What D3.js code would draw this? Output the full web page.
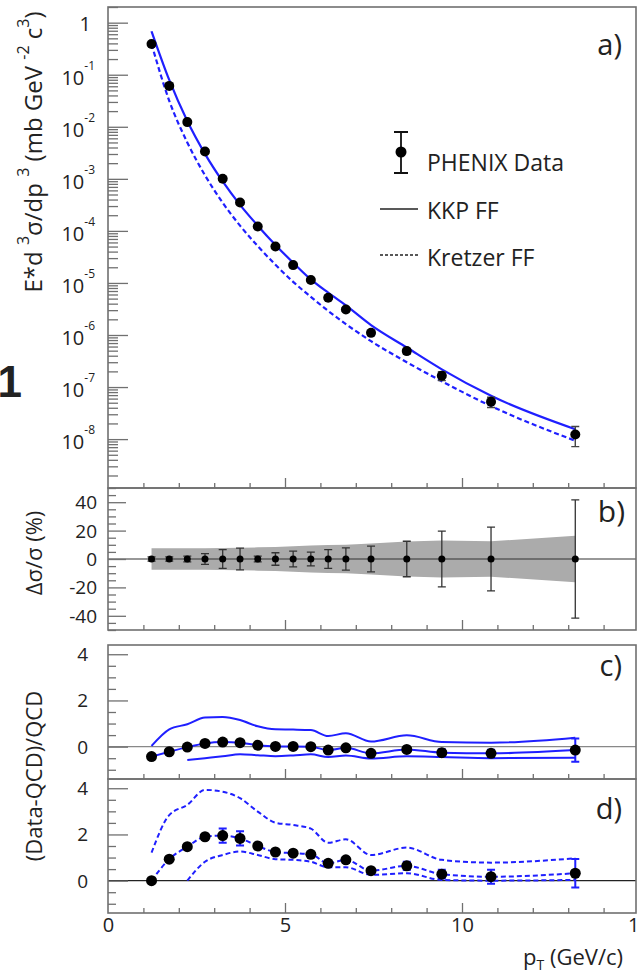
<!DOCTYPE html>
<html>
<head>
<meta charset="utf-8">
<script src="https://cdn.jsdelivr.net/npm/d3@7"></script>
<style>
  body { margin: 0; background: #fff; }
  svg text { font-family: "Open Sans", "DejaVu Sans", sans-serif; fill: #222; }
</style>
</head>
<body>
<div id="chart"></div>
<script>
/* global d3 */

//---------------------Data

const ptValues = [1.23, 1.73, 2.24, 2.74, 3.24, 3.73, 4.23, 4.73, 5.23, 5.73, 6.22, 6.72, 7.43, 8.44, 9.43, 10.82, 13.2]

// a) invariant cross section, mb GeV^-2 c^3
const crossSection = [0.39, 0.061, 0.0123, 3.35e-3, 1.0e-3, 3.5e-4, 1.21e-4, 5.0e-5, 2.2e-5, 1.14e-5, 5.2e-6, 3.1e-6, 1.1e-6, 4.9e-7, 1.65e-7, 5.2e-8, 1.23e-8]
const kkpCurve = [0.684, 0.0794, 0.0129, 3.02e-3, 8.9e-4, 3.16e-4, 1.26e-4, 5.37e-5, 2.45e-5, 1.17e-5, 6.5e-6, 3.7e-6, 1.55e-6, 5.75e-7, 2.19e-7, 6.8e-8, 1.55e-8]
const kretzerCurve = [0.39, 0.0316, 5.0e-3, 1.17e-3, 3.47e-4, 1.26e-4, 5.1e-5, 2.24e-5, 1.05e-5, 5.4e-6, 2.9e-6, 1.62e-6, 7.6e-7, 3.0e-7, 1.29e-7, 4.3e-8, 9.3e-9]

// b) relative errors in %
const statErrPct = [1.5, 1.5, 2, 3.8, 6.6, 7.6, 2, 4.4, 5.5, 4.8, 6.6, 7.8, 9.1, 12.5, 19.6, 22.4, 41.7]
const sysErrPct = [7.5, 7.5, 7.5, 7.6, 7.8, 8, 8.2, 8.5, 9, 9.5, 9.8, 10, 11, 12.4, 13, 12.5, 16.3]

// c) (Data-QCD)/QCD for KKP, with scale variations
const kkpRatio = [-0.43, -0.22, -0.02, 0.14, 0.2, 0.17, 0.06, 0.01, 0.01, 0.0, -0.15, -0.05, -0.29, -0.12, -0.26, -0.29, -0.15]
const kkpRatioErr = [0.02, 0.03, 0.04, 0.06, 0.08, 0.09, 0.03, 0.05, 0.06, 0.05, 0.06, 0.07, 0.07, 0.11, 0.15, 0.16, 0.5]
const kkpUpper = [0.03, 0.75, 0.97, 1.26, 1.28, 1.15, 0.88, 0.75, 0.74, 0.72, 0.46, 0.58, 0.22, 0.49, 0.2, 0.17, 0.39]
const kkpLower = [null, null, -0.58, -0.5, -0.42, -0.33, -0.37, -0.41, -0.38, -0.33, -0.45, -0.38, -0.51, -0.42, -0.45, -0.5, -0.48]

// d) (Data-QCD)/QCD for Kretzer, with scale variations
const kretzerRatio = [0, 0.93, 1.47, 1.9, 1.95, 1.83, 1.5, 1.24, 1.19, 1.14, 0.75, 0.9, 0.43, 0.64, 0.28, 0.17, 0.32]
const kretzerRatioErr = [0.03, 0.05, 0.08, 0.12, 0.31, 0.31, 0.08, 0.08, 0.1, 0.1, 0.12, 0.12, 0.12, 0.18, 0.19, 0.3, 0.62]
const kretzerUpper = [1.21, 2.84, 3.28, 3.93, 3.85, 3.57, 2.99, 2.51, 2.41, 2.25, 1.64, 1.79, 1.11, 1.43, 0.9, 0.78, 0.97]
const kretzerLower = [null, null, 0, 0.82, 1.11, 1.26, 1.11, 0.93, 0.9, 0.82, 0.58, 0.58, 0.25, 0.32, 0.03, 0.0, 0.03]

// tick labels
const xTickLabels = [0, 5, 10, 15]
const decadeExponents = [0, -1, -2, -3, -4, -5, -6, -7, -8]
const bTickLabels = [40, 20, 0, -20, -40]
const ratioTickLabels = [4, 2, 0]

const legendItems = ["PHENIX Data", "KKP FF", "Kretzer FF"]

//---------------------Layout

const dimensions = { width: 639, height: 974, left: 108, right: 636 }
const panels = {
  a: { top: 7, bottom: 488 },
  b: { top: 488, bottom: 630 },
  c: { top: 645, bottom: 779 },
  d: { top: 779, bottom: 913 }
}

const blue = "#1f1fff"
const frameColor = "#707070"

const svg = d3.select("#chart")
  .append("svg")
  .attr("width", dimensions.width)
  .attr("height", dimensions.height)

//---------------------Scales

const xScale = d3.scaleLinear().domain([0, 15]).range([dimensions.left, 639])
const yA = d3.scaleLog().domain([1.15e-9, 2]).range([panels.a.bottom, panels.a.top])
const yB = d3.scaleLinear().domain([-50, 50]).range([panels.b.bottom, panels.b.top])
const yC = d3.scaleLinear().domain([-1.4, 4.4]).range([panels.c.bottom, panels.c.top])
const yD = d3.scaleLinear().domain([-1.4, 4.4]).range([panels.d.bottom, panels.d.top])

const pts = ptValues.map((x, i) => ({ x, i }))

//---------------------Helpers

function styleAxis (g) {
  g.select(".domain").remove()
  g.selectAll(".tick line").attr("stroke", frameColor).attr("stroke-width", 1.3)
  g.selectAll(".tick text").remove()
}

function xTicks (panel) {
  const minor = d3.range(0, 15, 1).filter(v => v % 5 !== 0)
  svg.append("g")
    .attr("transform", `translate(0,${panel.bottom})`)
    .call(d3.axisTop(xScale).tickValues(minor).tickSize(5))
    .call(styleAxis)
  svg.append("g")
    .attr("transform", `translate(0,${panel.bottom})`)
    .call(d3.axisTop(xScale).tickValues([5, 10]).tickSize(10))
    .call(styleAxis)
}

function yTicks (scale, majors, minors, majorLen, minorLen) {
  svg.append("g")
    .attr("transform", `translate(${dimensions.left},0)`)
    .call(d3.axisRight(scale).tickValues(minors).tickSize(minorLen))
    .call(styleAxis)
  svg.append("g")
    .attr("transform", `translate(${dimensions.left},0)`)
    .call(d3.axisRight(scale).tickValues(majors).tickSize(majorLen))
    .call(styleAxis)
}

function frame (panel) {
  svg.append("rect")
    .attr("x", dimensions.left)
    .attr("y", panel.top)
    .attr("width", dimensions.right - dimensions.left)
    .attr("height", panel.bottom - panel.top)
    .attr("fill", "none")
    .attr("stroke", frameColor)
    .attr("stroke-width", 1.6)
}

// text with superscripts: parts = [[string, isSup], ...]
function richText (sel, parts, supSize, supShift) {
  let shift = 0
  parts.forEach(([t, sup]) => {
    const target = sup ? -supShift : 0
    sel.append("tspan")
      .attr("dy", target - shift)
      .style("font-size", sup ? supSize + "px" : null)
      .text(t)
    shift = target
  })
}

function zeroLine (scale, color) {
  svg.append("line")
    .attr("x1", dimensions.left).attr("x2", dimensions.right)
    .attr("y1", scale(0)).attr("y2", scale(0))
    .attr("stroke", color).attr("stroke-width", 1.2)
}

function errorBars (g, scale, lo, hi, color, width, cap) {
  g.selectAll(null)
    .data(pts)
    .join("path")
    .attr("d", d => {
      const x = xScale(d.x)
      const y1 = scale(lo(d))
      const y2 = scale(hi(d))
      return `M${x},${y1}V${y2}M${x - cap},${y1}H${x + cap}M${x - cap},${y2}H${x + cap}`
    })
    .attr("fill", "none")
    .attr("stroke", color)
    .attr("stroke-width", width)
}

//---------------------Panel a) spectrum

const decadeTicks = []
for (let k = -9; k <= 0; k++) {
  for (let m = 1; m <= 9; m++) {
    const v = m * Math.pow(10, k)
    if (v >= 1.15e-9 && v <= 2) decadeTicks.push({ v, major: m === 1 })
  }
}
yTicks(yA, decadeTicks.filter(d => d.major).map(d => d.v), decadeTicks.filter(d => !d.major).map(d => d.v), 20, 10)
xTicks(panels.a)

decadeExponents.forEach(e => {
  const y = yA(Math.pow(10, e))
  const t = svg.append("text")
    .attr("x", 95)
    .attr("y", e === 0 ? y + 8 : y + 10)
    .attr("text-anchor", "end")
    .style("font-size", "20px")
  if (e === 0) {
    t.attr("x", 91).text("1")
  } else {
    richText(t, [["10", false], [String(e), true]], 12, 15)
  }
})

const lineA = d3.line()
  .x(d => xScale(d.x))
  .y(d => yA(d.v))
  .curve(d3.curveMonotoneX)

svg.append("path")
  .attr("d", lineA(pts.map(d => ({ x: d.x, v: kkpCurve[d.i] }))))
  .attr("fill", "none")
  .attr("stroke", blue)
  .attr("stroke-width", 2.2)

svg.append("path")
  .attr("d", lineA(pts.map(d => ({ x: d.x, v: kretzerCurve[d.i] }))))
  .attr("fill", "none")
  .attr("stroke", blue)
  .attr("stroke-width", 2.2)
  .attr("stroke-dasharray", "5,3")

const gA = svg.append("g")
errorBars(gA, yA,
  d => crossSection[d.i] * (1 - statErrPct[d.i] / 100),
  d => crossSection[d.i] * (1 + statErrPct[d.i] / 100),
  "#444", 1.4, 4)

gA.selectAll("circle")
  .data(pts)
  .join("circle")
  .attr("cx", d => xScale(d.x))
  .attr("cy", d => yA(crossSection[d.i]))
  .attr("r", 5)
  .attr("fill", "black")

frame(panels.a)

// legend
const legend = svg.append("g")
legend.append("path")
  .attr("d", "M401,132V173M394,132H408M394,173H408")
  .attr("stroke", "#111").attr("stroke-width", 1.8).attr("fill", "none")
legend.append("circle").attr("cx", 401).attr("cy", 152).attr("r", 5.5).attr("fill", "black")
legend.append("line").attr("x1", 380).attr("x2", 418).attr("y1", 209).attr("y2", 209)
  .attr("stroke", "#222").attr("stroke-width", 1.5)
legend.append("line").attr("x1", 380).attr("x2", 418).attr("y1", 255).attr("y2", 255)
  .attr("stroke", "#222").attr("stroke-width", 1.5).attr("stroke-dasharray", "3,2")
legend.selectAll("text")
  .data(legendItems)
  .join("text")
  .attr("x", 427)
  .attr("y", (d, i) => [171, 219, 266][i])
  .style("font-size", "23px")
  .text(d => d)

svg.append("text")
  .attr("x", 622).attr("y", 55)
  .attr("text-anchor", "end")
  .style("font-size", "29px")
  .text("a)")

//---------------------Panel b) relative errors

svg.append("path")
  .attr("d", d3.area()
    .x(d => xScale(d.x))
    .y0(d => yB(-sysErrPct[d.i]))
    .y1(d => yB(sysErrPct[d.i]))(pts))
  .attr("fill", "#ababab")

zeroLine(yB, "#333")

yTicks(yB, bTickLabels, d3.range(-50, 51, 5).filter(v => v % 20 !== 0), 18, 8)
xTicks(panels.b)

const gB = svg.append("g")
errorBars(gB, yB, d => -statErrPct[d.i], d => statErrPct[d.i], "#333", 1.3, 4)
gB.selectAll("circle")
  .data(pts)
  .join("circle")
  .attr("cx", d => xScale(d.x))
  .attr("cy", yB(0))
  .attr("r", 3.5)
  .attr("fill", "black")

svg.selectAll(null)
  .data(bTickLabels)
  .join("text")
  .attr("x", 97)
  .attr("y", d => yB(d) + 7)
  .attr("text-anchor", "end")
  .style("font-size", "19px")
  .text(d => d)

frame(panels.b)

svg.append("text")
  .attr("x", 625).attr("y", 522)
  .attr("text-anchor", "end")
  .style("font-size", "30px")
  .text("b)")

//---------------------Panels c) and d) ratios

function ratioPanel (panel, scale, ratio, ratioErr, upper, lower, dash, zeroColor, label, labelY) {
  zeroLine(scale, zeroColor)
  yTicks(scale, ratioTickLabels, d3.range(-1, 4.01, 0.5).filter(v => v % 2 !== 0), 20, 8)
  xTicks(panel)

  const line = d3.line()
    .defined(d => d.v !== null)
    .x(d => xScale(d.x))
    .y(d => scale(d.v))
    .curve(d3.curveMonotoneX)

  const g = svg.append("g")
  ;[upper, lower, ratio].forEach(arr => {
    g.append("path")
      .attr("d", line(pts.map(d => ({ x: d.x, v: arr[d.i] }))))
      .attr("fill", "none")
      .attr("stroke", blue)
      .attr("stroke-width", 2)
      .attr("stroke-dasharray", dash)
  })

  errorBars(g, scale, d => ratio[d.i] - ratioErr[d.i], d => ratio[d.i] + ratioErr[d.i], blue, 2, 4)

  g.selectAll("circle")
    .data(pts)
    .join("circle")
    .attr("cx", d => xScale(d.x))
    .attr("cy", d => scale(ratio[d.i]))
    .attr("r", 5.5)
    .attr("fill", "black")

  svg.selectAll(null)
    .data(ratioTickLabels)
    .join("text")
    .attr("x", 88)
    .attr("y", d => scale(d) + 7)
    .attr("text-anchor", "end")
    .style("font-size", "19px")
    .text(d => d)

  frame(panel)

  svg.append("text")
    .attr("x", 622).attr("y", labelY)
    .attr("text-anchor", "end")
    .style("font-size", "29px")
    .text(label)
}

ratioPanel(panels.c, yC, kkpRatio, kkpRatioErr, kkpUpper, kkpLower, null, "#888", "c)", 676)
ratioPanel(panels.d, yD, kretzerRatio, kretzerRatioErr, kretzerUpper, kretzerLower, "5,3", "#222", "d)", 819)

//---------------------X axis labels

svg.append("g")
  .attr("transform", `translate(0,${panels.d.bottom})`)
  .call(d3.axisBottom(xScale).tickValues(xTickLabels).tickSize(0).tickPadding(0))
  .call(g => g.select(".domain").remove())
  .call(g => g.selectAll(".tick text")
    .attr("y", 19)
    .attr("dy", 0)
    .style("font-family", "'Open Sans', sans-serif")
    .style("font-size", "20px")
    .attr("fill", "#222"))

const xTitle = svg.append("text")
  .attr("x", 623).attr("y", 965)
  .attr("text-anchor", "end")
  .style("font-size", "22px")
xTitle.append("tspan").text("p")
xTitle.append("tspan").attr("dy", 5).style("font-size", "14px").text("T")
xTitle.append("tspan").attr("dy", -5).text(" (GeV/c)")

//---------------------Y axis titles

const yTitleA = svg.append("text")
  .attr("transform", "translate(42,152) rotate(-90)")
  .attr("text-anchor", "middle")
  .style("font-size", "24px")
richText(yTitleA, [["E*d ", false], ["3", true], ["σ/dp ", false], ["3", true], [" (mb GeV ", false], ["-2", true], [" c", false], ["3", true], [")", false]], 16, 13)

svg.append("text")
  .attr("transform", "translate(42,553) rotate(-90)")
  .attr("text-anchor", "middle")
  .style("font-size", "22px")
  .text("Δσ/σ (%)")

svg.append("text")
  .attr("transform", "translate(42,776) rotate(-90)")
  .attr("text-anchor", "middle")
  .style("font-size", "22px")
  .text("(Data-QCD)/QCD")

// figure number, cut at the left edge
svg.append("text")
  .attr("x", 22).attr("y", 397)
  .attr("text-anchor", "end")
  .style("font-size", "44px")
  .style("font-weight", "bold")
  .style("font-family", "'Liberation Sans', Arial, sans-serif")
  .attr("fill", "#000")
  .text("1")
</script>
</body>
</html>
